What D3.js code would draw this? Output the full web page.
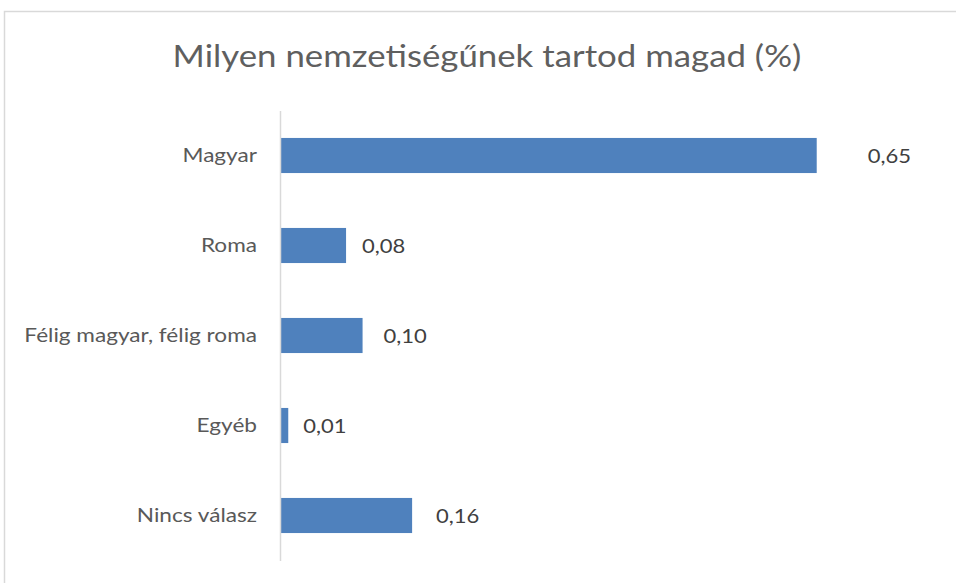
<!DOCTYPE html>
<html>
<head>
<meta charset="utf-8">
<script src="https://cdn.jsdelivr.net/npm/d3@7"></script>
<style>
  body { margin: 0; background: #fff; }
  text { font-family: Lato, "Open Sans", sans-serif; }
</style>
</head>
<body>
<svg id="chart" width="956" height="583"></svg>
<script>
var categories = ["Magyar", "Roma", "Félig magyar, félig roma", "Egyéb", "Nincs válasz"];
var values = [0.65, 0.08, 0.10, 0.01, 0.16];
var valueLabels = ["0,65", "0,08", "0,10", "0,01", "0,16"];
var title = "Milyen nemzetiségűnek tartod magad (%)";

// label gap after bar end (the first one was pushed out in the original)
var labelGap = [51, 16, 21, 15, 24];

var svg = d3.select("#chart");

// the original font is narrower-looking but wider set, so widen a bit
function stretch(sel, k) {
  sel.each(function(){
    var w = this.getComputedTextLength();
    d3.select(this)
      .attr("textLength", w * k)
      .attr("lengthAdjust", "spacingAndGlyphs");
  });
}

// outer chart frame
svg.append("rect")
  .attr("x", 4.5)
  .attr("y", 11.5)
  .attr("width", 980)
  .attr("height", 620)
  .attr("fill", "#fff")
  .attr("stroke", "#d9d9d9")
  .attr("stroke-width", 1.5);

svg.append("text")
  .attr("x", 487)
  .attr("y", 67)
  .attr("text-anchor", "middle")
  .attr("font-size", 30)
  .attr("fill", "#5f5f5f")
  .text(title)
  .call(stretch, 1.16);

var x = d3.scaleLinear()
  .domain([0, 0.7])
  .range([280, 858]);

var y = d3.scaleBand()
  .domain(categories)
  .range([110.5, 560.5])
  .paddingInner(0.61)
  .paddingOuter(0.305);

var bars = svg.append("g");

bars.selectAll("rect")
  .data(values)
  .enter().append("rect")
  .attr("x", x(0))
  .attr("y", function(d, i){ return y(categories[i]); })
  .attr("width", function(d){ return x(d) - x(0); })
  .attr("height", y.bandwidth())
  .attr("fill", "#4f81bd");

bars.selectAll("text")
  .data(values)
  .enter().append("text")
  .attr("x", function(d, i){ return x(d) + labelGap[i]; })
  .attr("y", function(d, i){ return y(categories[i]) + y.bandwidth() / 2; })
  .attr("dy", "0.35em")
  .attr("font-size", 20)
  .attr("fill", "#404040")
  .text(function(d, i){ return valueLabels[i]; })
  .call(stretch, 1.1);

var yAxis = d3.axisLeft(y).tickSize(0).tickPadding(23);

var gy = svg.append("g")
  .attr("transform", "translate(" + x(0) + ",0)")
  .call(yAxis);

gy.select(".domain")
  .attr("stroke", "#d9d9d9")
  .attr("stroke-width", 1.5);

gy.selectAll(".tick text")
  .attr("font-family", "Lato, 'Open Sans', sans-serif")
  .attr("font-size", 20)
  .attr("fill", "#595959")
  .call(stretch, 1.13);
</script>
</body>
</html>
